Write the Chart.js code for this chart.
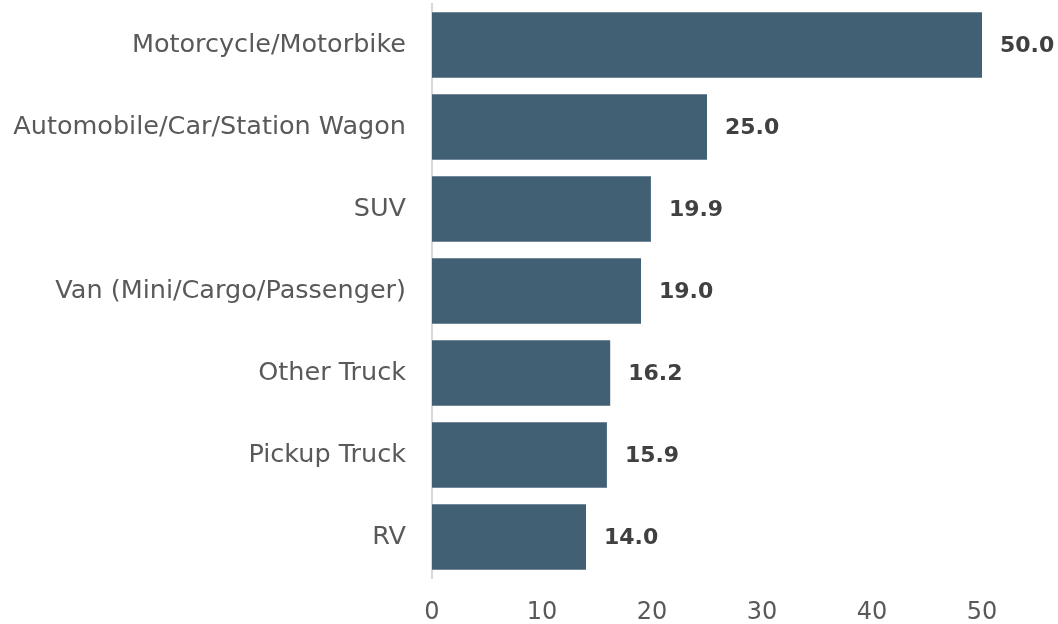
<!DOCTYPE html>
<html>
<head>
<meta charset="utf-8">
<script src="https://cdn.jsdelivr.net/npm/chart.js@4"></script>
<style>
  html, body { margin: 0; padding: 0; background: #fff; }
  #wrap { width: 1058px; height: 624px; }
</style>
</head>
<body>
<div id="wrap"><canvas id="barChart"></canvas></div>
<script>
const categories = ["Motorcycle/Motorbike", "Automobile/Car/Station Wagon", "SUV",
  "Van (Mini/Cargo/Passenger)", "Other Truck", "Pickup Truck", "RV"];
const values = [50.0, 25.0, 19.9, 19.0, 16.2, 15.9, 14.0];
const xTicks = [0, 10, 20, 30, 40, 50];

const FONT = "'DejaVu Sans', sans-serif";

// draws the value at the end of each bar
const valueLabels = {
  id: "valueLabels",
  afterDatasetsDraw(chart) {
    const ctx = chart.ctx;
    const meta = chart.getDatasetMeta(0);
    ctx.save();
    ctx.font = "bold 22px " + FONT;
    ctx.fillStyle = "#404040";
    ctx.textAlign = "left";
    ctx.textBaseline = "middle";
    meta.data.forEach((bar, i) => {
      ctx.fillText(values[i].toFixed(1), bar.x + 18, bar.y + 1);
    });
    ctx.restore();
  }
};

document.addEventListener("DOMContentLoaded", () => {
  const ctx = document.getElementById("barChart");
  new Chart(ctx, {
    type: "bar",
    data: {
      labels: categories,
      datasets: [{
        data: values,
        backgroundColor: "#416074",
        barPercentage: 0.8,
        categoryPercentage: 1.0
      }]
    },
    options: {
      indexAxis: "y",
      responsive: true,
      maintainAspectRatio: false,
      animation: false,
      layout: { padding: { top: 4, right: 76, left: 0, bottom: 0 } },
      plugins: {
        legend: { display: false },
        tooltip: { enabled: false }
      },
      scales: {
        x: {
          min: 0,
          max: 50,
          afterBuildTicks: (axis) => { axis.ticks = xTicks.map(v => ({ value: v })); },
          grid: { display: false, drawTicks: false },
          border: { display: false },
          ticks: { color: "#595959", font: { family: FONT, size: 24 }, padding: 20 },
          afterFit: (axis) => { axis.height = 46; axis.paddingLeft = 0; axis.paddingRight = 0; }
        },
        y: {
          grid: { display: false, drawTicks: false },
          border: { display: true, color: "#d9d9d9", width: 2 },
          ticks: { color: "#595959", font: { family: FONT, size: 25.5 }, padding: 26 },
          afterFit: (axis) => { axis.width = 432; axis.paddingTop = 0; axis.paddingBottom = 0; }
        }
      }
    },
    plugins: [valueLabels]
  });
});
</script>
</body>
</html>
